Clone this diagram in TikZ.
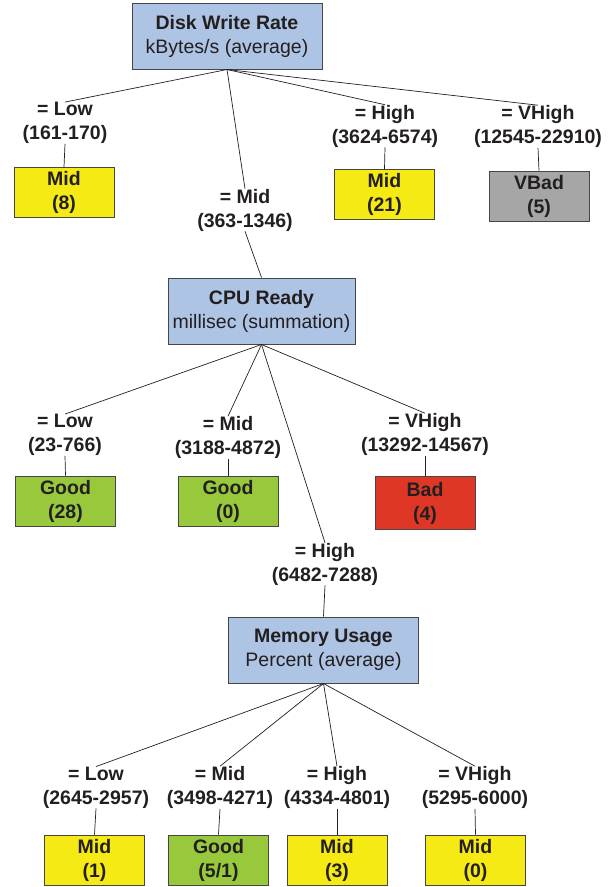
\documentclass[tikz,border=0pt]{standalone}
\usepackage{fontspec}
\setmainfont{Liberation Sans}
\usepackage{xcolor}
\usetikzlibrary{positioning,calc}
\definecolor{attrblue}{RGB}{174,196,228}
\definecolor{midyellow}{RGB}{245,234,20}
\definecolor{goodgreen}{RGB}{152,200,60}
\definecolor{badred}{RGB}{222,55,38}
\definecolor{vbadgray}{RGB}{166,166,166}
\definecolor{inkgray}{RGB}{35,31,32}
\definecolor{framegray}{RGB}{70,70,70}

\begin{document}
\begin{tikzpicture}[x=1pt, y=-1pt,
    attr/.style={draw=framegray, line width=1pt, fill=attrblue, text=inkgray,
      minimum width=190pt, minimum height=66pt, align=center, inner sep=0pt,
      font=\fontsize{19.5}{24}\selectfont},
    leaf/.style={draw=framegray, line width=1pt, text=inkgray,
      minimum width=100pt, minimum height=50pt, align=center, inner sep=0pt,
      font=\fontsize{19.5}{24}\selectfont\bfseries},
    cond/.style={text=inkgray, align=center, inner sep=0pt,
      font=\fontsize{19.5}{24}\selectfont\bfseries},
    edge/.style={draw=inkgray, line width=0.7pt}]
    \useasboundingbox (0,0) rectangle (612,887);
    % Root split: disk write rate
    \node[attr] (disk) at (227, 36) {\textbf{Disk Write Rate}\\kBytes/s (average)};
    \node[cond] (dLow)   at (65, 123)    {= Low\\(161-170)};
    \node[cond] (dMid)   at (245, 210)   {= Mid\\(363-1346)};
    \node[cond] (dHigh)  at (385, 126)   {= High\\(3624-6574)};
    \node[cond] (dVHigh) at (538, 126.5) {= VHigh\\(12545-22910)};
    \node[leaf, fill=midyellow] (dLowLeaf)   at (64, 192.5)  {Mid\\(8)};
    \node[leaf, fill=midyellow] (dHighLeaf)  at (384.5, 194.5) {Mid\\(21)};
    \node[leaf, fill=vbadgray]  (dVHighLeaf) at (539, 196)   {VBad\\(5)};
    % Second split: CPU ready
    \node[attr, minimum width=187pt] (cpu) at (261.5, 311) {\textbf{CPU Ready}\\millisec (summation)};
    \node[cond] (cLow)   at (65, 435)    {= Low\\(23-766)};
    \node[cond] (cMid)   at (228, 437.5) {= Mid\\(3188-4872)};
    \node[cond] (cVHigh) at (425, 434.5) {= VHigh\\(13292-14567)};
    \node[cond] (cHigh)  at (325, 564)   {= High\\(6482-7288)};
    \node[leaf, fill=goodgreen] (cLowLeaf)   at (65.5, 501) {Good\\(28)};
    \node[leaf, fill=goodgreen] (cMidLeaf)   at (228, 501)  {Good\\(0)};
    \node[leaf, fill=badred, minimum height=53pt] (cVHighLeaf) at (425, 503) {Bad\\(4)};
    % Third split: memory usage
    \node[attr] (mem) at (323.5, 650) {\textbf{Memory Usage}\\Percent (average)};
    \node[cond] (mLow)   at (96, 787.5)  {= Low\\(2645-2957)};
    \node[cond] (mMid)   at (220, 787.5) {= Mid\\(3498-4271)};
    \node[cond] (mHigh)  at (337, 787.5) {= High\\(4334-4801)};
    \node[cond] (mVHigh) at (475, 787.5) {= VHigh\\(5295-6000)};
    \node[leaf, fill=midyellow] (mLowLeaf)   at (94.5, 860)  {Mid\\(1)};
    \node[leaf, fill=goodgreen] (mMidLeaf)   at (218.5, 860) {Good\\(5/1)};
    \node[leaf, fill=midyellow] (mHighLeaf)  at (337, 860)   {Mid\\(3)};
    \node[leaf, fill=midyellow] (mVHighLeaf) at (475.5, 860) {Mid\\(0)};
    % Branches
    \foreach \split/\val in {disk/dLow, disk/dMid, disk/dHigh, disk/dVHigh,
        cpu/cLow, cpu/cMid, cpu/cHigh, cpu/cVHigh,
        mem/mLow, mem/mMid, mem/mHigh, mem/mVHigh}
      \draw[edge] (\split.south) -- (\val.north);
    \foreach \val/\res in {dLow/dLowLeaf, dHigh/dHighLeaf, dVHigh/dVHighLeaf,
        cLow/cLowLeaf, cMid/cMidLeaf, cVHigh/cVHighLeaf,
        mLow/mLowLeaf, mMid/mMidLeaf, mHigh/mHighLeaf, mVHigh/mVHighLeaf,
        dMid/cpu, cHigh/mem}
      \draw[edge] (\val.south) -- (\res.north);
  \end{tikzpicture}
\end{document}
